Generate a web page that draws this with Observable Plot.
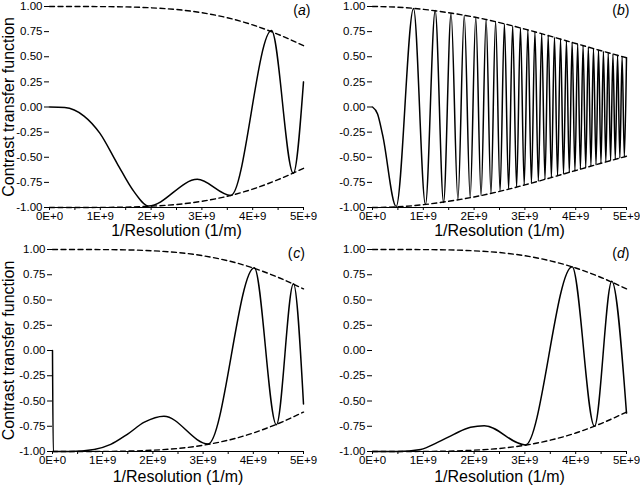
<!DOCTYPE html>
<html><head><meta charset="utf-8">
<script src="https://cdn.jsdelivr.net/npm/d3@7"></script>
<script src="https://cdn.jsdelivr.net/npm/@observablehq/plot@0.6"></script>
<style>
body{margin:0;background:#fff;}
#wrap{position:relative;width:640px;height:485px;background:#fff;overflow:hidden;}
#wrap svg{position:absolute;display:block;}
</style></head><body><div id="wrap"></div>
<script>
// ---- labels / ticks ----
const panelTags = ["a", "b", "c", "d"];
const xTitle = "1/Resolution (1/m)";
const yTitle = "Contrast transfer function";
const xTicks = [0, 1, 2, 3, 4, 5];
const xTickLabels = ["0E+0", "1E+9", "2E+9", "3E+9", "4E+9", "5E+9"];
const xMinorTicks = [0.5, 1.5, 2.5, 3.5, 4.5];
const yTicks = [1, 0.75, 0.5, 0.25, 0, -0.25, -0.5, -0.75, -1];
const yTickLabels = ["1.00", "0.75", "0.50", "0.25", "0.00", "-0.25", "-0.50", "-0.75", "-1.00"];

// ---- envelopes (x in units of 1E+9 1/m) ----
const envX = [0, 0.5, 1, 1.5, 2, 2.5, 3, 3.5, 4, 4.5, 5];
const envACD = [1.00, 1.00, 0.999, 0.996, 0.987, 0.970, 0.938, 0.888, 0.817, 0.723, 0.61];
const envB = [1.00, 0.993, 0.972, 0.938, 0.895, 0.840, 0.775, 0.705, 0.632, 0.560, 0.49];

// ---- panel (a) ----
const aX = [0, 0.3, 0.68, 0.99, 1.33, 1.66, 1.95, 2.91, 3.57, 4.37, 4.8, 5.0];
const aY = [0, -0.005, -0.09, -0.26, -0.56, -0.84, -0.985, -0.72, -0.88, 0.76, -0.66, 0.25];

// ---- panel (b) ----
const bX = [0, 0.1, 0.2, 0.4664, 0.8078, 1.0428, 1.2339, 1.3991, 1.5468, 1.6815, 1.8062, 1.9229,
  2.0329, 2.1372, 2.2366, 2.3319, 2.4233, 2.5115, 2.5966, 2.6791, 2.7591, 2.8368, 2.9125, 2.9862,
  3.0582, 3.1285, 3.1973, 3.2646, 3.3305, 3.3952, 3.4587, 3.5210, 3.5823, 3.6425, 3.7017, 3.7600,
  3.8174, 3.8739, 3.9297, 3.9847, 4.0389, 4.0924, 4.1452, 4.1973, 4.2488, 4.2997, 4.3500, 4.3997,
  4.4489, 4.4975, 4.5456, 4.5932, 4.6403, 4.6870, 4.7331, 4.7789, 4.8242, 4.8691, 4.9135, 4.9576, 5.0];
const bY = [0, -0.07, -0.28, -0.99, 0.98, -0.97, 0.96, -0.95, 0.93, -0.92, 0.91, -0.90,
  0.89, -0.88, 0.87, -0.86, 0.85, -0.835, 0.825, -0.815, 0.805, -0.795, 0.785, -0.775,
  0.766, -0.756, 0.747, -0.738, 0.729, -0.72, 0.711, -0.702, 0.693, -0.685, 0.677, -0.668,
  0.66, -0.652, 0.644, -0.636, 0.628, -0.62, 0.613, -0.605, 0.598, -0.59, 0.583, -0.576,
  0.569, -0.562, 0.555, -0.548, 0.541, -0.535, 0.528, -0.521, 0.515, -0.509, 0.502, -0.496, 0.49];

// ---- panel (c) ----
const cX = [0, 0.015, 0.35, 0.83, 1.16, 1.49, 1.83, 2.22, 3.1, 4.02, 4.46, 4.8, 5.0];
const cY = [0, -1.0, -1.0, -0.98, -0.93, -0.83, -0.71, -0.65, -0.925, 0.82, -0.735, 0.66, -0.53];

// ---- panel (d) ----
const dX = [0, 0.5, 0.95, 1.28, 1.6, 1.93, 2.2, 3.01, 3.93, 4.37, 4.71, 5.0];
const dY = [-1.0, -1.0, -0.98, -0.91, -0.83, -0.76, -0.745, -0.935, 0.83, -0.75, 0.685, -0.62];

const FONT = "Liberation Sans, Arial, Helvetica, sans-serif";
const TICK_FS = 11.5;

const panels = [
  {tag: panelTags[0], cx: aX, cy: aY, env: envACD, left: 0,   top: 0,   w: 320, h: 240, mL: 49, mR: 17, mT: 6, mB: 33, showY: true,  tagDx: 7,   titleDy: 17},
  {tag: panelTags[1], cx: bX, cy: bY, env: envB,   left: 320, top: 0,   w: 320, h: 240, mL: 52, mR: 14, mT: 6, mB: 33, showY: false, tagDx: 3,   titleDy: 17},
  {tag: panelTags[2], cx: cX, cy: cY, env: envACD, left: 0,   top: 240, w: 320, h: 245, mL: 52, mR: 17, mT: 9, mB: 34, showY: true,  tagDx: 1.5, titleDy: 19},
  {tag: panelTags[3], cx: dX, cy: dY, env: envACD, left: 320, top: 240, w: 320, h: 245, mL: 52, mR: 14, mT: 9, mB: 34, showY: false, tagDx: 3,   titleDy: 19}
];

const wrap = document.getElementById("wrap");

for (const p of panels) {
  const curve = p.cx.map((x, i) => ({x, y: p.cy[i]}));
  const upper = envX.map((x, i) => ({x, y: p.env[i]}));
  const lower = envX.map((x, i) => ({x, y: -p.env[i]}));
  const tagFs = 14;
  const marks = [
    Plot.line(upper, {x: "x", y: "y", curve: "monotone-x", stroke: "#000", strokeWidth: 1.4, strokeDasharray: "5,3.5"}),
    Plot.line(lower, {x: "x", y: "y", curve: "monotone-x", stroke: "#000", strokeWidth: 1.4, strokeDasharray: "5,3.5"}),
    Plot.line(curve, {x: "x", y: "y", curve: "monotone-x", stroke: "#000", strokeWidth: 1.5}),
    Plot.ruleY([-1], {stroke: "#000", strokeWidth: 1}),
    Plot.axisX(xTicks, {tickFormat: d => xTickLabels[xTicks.indexOf(d)], tickSize: 3, tickPadding: 1, label: null, fontSize: TICK_FS, stroke: "#000", fill: "#000"}),
    Plot.axisX(xMinorTicks, {tickFormat: () => "", tickSize: 3, label: null, stroke: "#000"}),
    Plot.axisY(yTicks, {tickFormat: d => yTickLabels[yTicks.indexOf(d)], tickSize: 5, tickPadding: 2, label: null, fontSize: TICK_FS, stroke: "#000", fill: "#000"}),
    Plot.text([xTitle], {frameAnchor: "bottom", dy: p.titleDy, lineAnchor: "top", textAnchor: "middle", fontSize: 16, fill: "#000"}),
    // panel tag "(x)" with italic letter
    Plot.text([")"], {frameAnchor: "top-right", dx: p.tagDx, dy: -1, textAnchor: "end", lineAnchor: "top", fontSize: tagFs, fill: "#000"}),
    Plot.text([p.tag], {frameAnchor: "top-right", dx: p.tagDx - 4.7, dy: -1, textAnchor: "end", lineAnchor: "top", fontSize: tagFs, fontStyle: "italic", fill: "#000"}),
    Plot.text(["("], {frameAnchor: "top-right", dx: p.tagDx - 4.7 - 7.8, dy: -1, textAnchor: "end", lineAnchor: "top", fontSize: tagFs, fill: "#000"})
  ];
  if (p.showY) {
    marks.push(Plot.text([yTitle], {frameAnchor: "left", rotate: -90, dx: -(p.mL - 2), textAnchor: "middle", lineAnchor: "top", fontSize: 16, fill: "#000"}));
  }
  const svg = Plot.plot({
    width: p.w, height: p.h,
    marginLeft: p.mL, marginRight: p.mR, marginTop: p.mT, marginBottom: p.mB,
    style: {fontFamily: FONT, fontSize: TICK_FS + "px", color: "#000", background: "transparent", overflow: "visible"},
    x: {domain: [0, 5], axis: null},
    y: {domain: [-1, 1], axis: null},
    marks
  });
  svg.style.left = p.left + "px";
  svg.style.top = p.top + "px";
  wrap.appendChild(svg);
}
</script>
</body></html>
